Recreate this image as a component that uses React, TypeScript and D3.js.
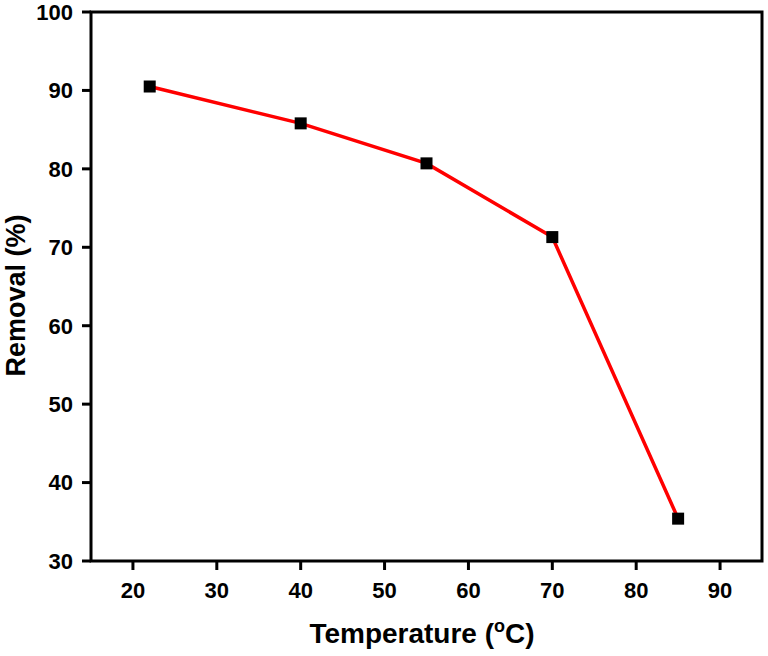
import React from "react";
import * as d3 from "d3";

const temperatures = [22, 40, 55, 70, 85];
const removal = [90.5, 85.8, 80.7, 71.3, 35.4];
const xTicks = [20, 30, 40, 50, 60, 70, 80, 90];
const yTicks = [30, 40, 50, 60, 70, 80, 90, 100];

export default function App() {
  const W = 768, H = 656;
  const left = 91, right = 762, top = 12, bottom = 561;
  const x = d3.scaleLinear().domain([15, 95]).range([left, right]);
  const y = d3.scaleLinear().domain([30, 100]).range([bottom, top]);
  const pts = temperatures.map((t, i) => [x(t), y(removal[i])] as [number, number]);
  const line = d3.line()(pts) || "";
  const font = "Arial, 'Liberation Sans', Helvetica, sans-serif";
  const ms = 12;
  return (
    <svg width={W} height={H} style={{ position: "absolute", left: 0, top: 0, background: "#fff" }} fontFamily={font}>
      <rect x={left} y={top} width={right - left} height={bottom - top} fill="none" stroke="#000" strokeWidth={3} />
      {yTicks.map((t) => (
        <g key={"y" + t}>
          <line x1={left - 9} x2={left} y1={y(t)} y2={y(t)} stroke="#000" strokeWidth={3} />
          <text x={left - 18} y={y(t)} dy="0.36em" textAnchor="end" fontSize={22} fontWeight="bold">{t}</text>
        </g>
      ))}
      {xTicks.map((t) => (
        <g key={"x" + t}>
          <line x1={x(t)} x2={x(t)} y1={bottom} y2={bottom + 9} stroke="#000" strokeWidth={3} />
          <text x={x(t)} y={bottom + 37} textAnchor="middle" fontSize={22} fontWeight="bold">{t}</text>
        </g>
      ))}
      <path d={line} fill="none" stroke="#ff0000" strokeWidth={3.5} />
      {pts.map(([px, py], i) => (
        <rect key={i} x={px - ms / 2} y={py - ms / 2} width={ms} height={ms} fill="#000" />
      ))}
      <text transform={`translate(25,${(top + bottom) / 2 + 9}) rotate(-90)`} textAnchor="middle" fontSize={27} fontWeight="bold">Removal (%)</text>
      <text x={422} y={643} textAnchor="middle" fontSize={28} fontWeight="bold">
        Temperature (<tspan dy={-11} fontSize={18}>o</tspan><tspan dy={11}>C)</tspan>
      </text>
    </svg>
  );
}
